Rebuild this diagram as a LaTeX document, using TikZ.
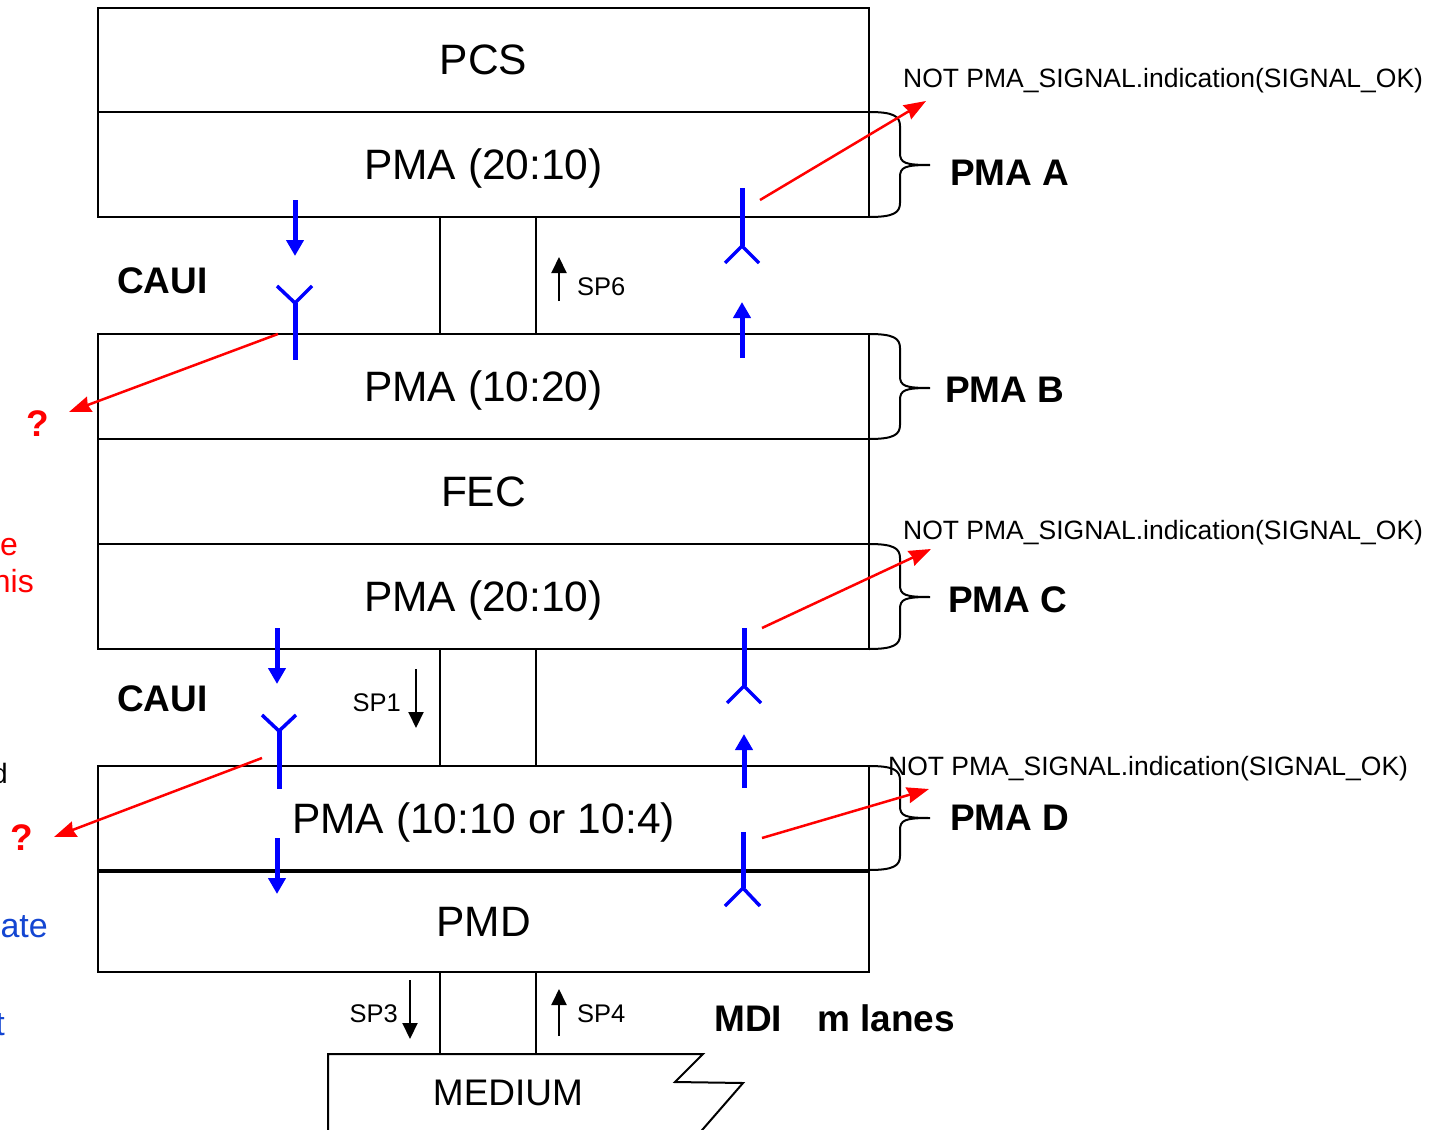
\documentclass[tikz,border=0pt]{standalone}
\usepackage{fontspec}
\setmainfont{Liberation Sans}
\usetikzlibrary{arrows.meta}
\definecolor{sigred}{RGB}{255,0,0}
\definecolor{sigblue}{RGB}{0,0,255}
\definecolor{noteblue}{RGB}{20,70,210}
\newcommand\mybrace[3]{% top, bottom, middle
  \draw[line width=2pt] (869,#1) .. controls (893,#1) and (900,{#1+4}) .. (900,{#1+14})
    -- (900,{#3-12}) .. controls (900,{#3-2}) and (905,#3) .. (930,#3)
    .. controls (905,#3) and (900,{#3+2}) .. (900,{#3+12})
    -- (900,{#2-14}) .. controls (900,{#2-4}) and (893,#2) .. (869,#2);}
\begin{document}
\begin{tikzpicture}[x=1pt,y=-1pt,
  layer/.style={draw,line width=2pt,minimum width=771pt,inner sep=0pt,
    text height=30pt,text depth=0pt,
    font=\fontsize{42.5}{48}\selectfont},
  gap/.style={draw,line width=2pt,minimum width=96pt,inner sep=0pt},
  lbl/.style={inner sep=0pt,text height=26.5pt,text depth=0pt,font=\fontsize{37}{42}\selectfont\bfseries},
  sig/.style={inner sep=0pt,text height=19pt,text depth=0pt,font=\fontsize{26.5}{30}\selectfont},
  sp/.style={inner sep=0pt,text height=18.5pt,text depth=0pt,font=\fontsize{25.5}{30}\selectfont},
  sparrow/.style={line width=2pt,-{Triangle[length=16pt,width=15pt]}},
  bluearrow/.style={sigblue,line width=5pt,-{Triangle[length=16pt,width=17pt]}},
  bluestem/.style={sigblue,line width=5pt},
  bluearm/.style={sigblue,line width=3.5pt},
  redarrow/.style={sigred,line width=2.5pt,-{Stealth[length=22pt,width=16pt,inset=2pt]}},
  frag/.style={inner sep=0pt,anchor=east,font=\fontsize{32}{36}\selectfont}]
\useasboundingbox (0,0) rectangle (1442,1129);
\fill[white] (0,0) rectangle (1442,1129);
% layers
\node[layer,minimum height=104pt] (pcs) at (483.5,60) {PCS};
\node[layer,minimum height=105pt] (pmaA) at (483.5,164.5) {PMA (20:10)};
\node[gap,minimum height=117pt] (caui1) at (488,275.5) {};
\node[layer,minimum height=105pt] (pmaB) at (483.5,386.5) {PMA (10:20)};
\node[layer,minimum height=105pt] (fec) at (483.5,491.5) {FEC};
\node[layer,minimum height=105pt] (pmaC) at (483.5,596.5) {PMA (20:10)};
\node[gap,minimum height=117pt] (caui2) at (488,707.5) {};
\node[layer,minimum height=104pt] (pmaD) at (483.5,818) {PMA (10:10 or 10:4)};
\node[layer,minimum height=102pt] (pmd) at (483.5,921) {PMD};
\node[gap,minimum height=82pt] (mdi) at (488,1013) {};
\draw[line width=3pt] (pmaD.south west) -- (pmaD.south east);
% medium
\draw[line width=2pt] (328,1140) -- (328,1054) -- (703,1054) -- (675,1082) -- (743,1083) -- (703,1129) -- (696,1137);
\node[inner sep=0pt,text height=26.5pt,text depth=0pt,font=\fontsize{37}{42}\selectfont] (medium) at (508,1092) {MEDIUM};
% braces
\mybrace{112}{217}{165}
\mybrace{334}{439}{388}
\mybrace{544}{649}{597}
\mybrace{766}{870}{818}
% right labels
\node[lbl,anchor=west] (lA) at (950,172) {PMA A};
\node[lbl,anchor=west] (lB) at (945,389) {PMA B};
\node[lbl,anchor=west] (lC) at (948,599) {PMA C};
\node[lbl,anchor=west] (lD) at (950,817) {PMA D};
\node[sig,anchor=west] (nA) at (903,78) {NOT PMA\_SIGNAL.indication(SIGNAL\_OK)};
\node[sig,anchor=west] (nC) at (903,530) {NOT PMA\_SIGNAL.indication(SIGNAL\_OK)};
\node[sig,anchor=west] (nD) at (888,766) {NOT PMA\_SIGNAL.indication(SIGNAL\_OK)};
% CAUI, MDI
\node[lbl,anchor=west] (c1) at (117,280) {CAUI};
\node[lbl,anchor=west] (c2) at (117,698) {CAUI};
\node[lbl,anchor=west] (mdil) at (714,1018) {MDI};
\node[lbl,anchor=west] (ml) at (817,1018) {m lanes};
% SP labels and arrows
\node[sp,anchor=west] (sp6) at (577,286) {SP6};
\node[sp,anchor=east] (sp1) at (401,702) {SP1};
\node[sp,anchor=east] (sp3) at (398,1013) {SP3};
\node[sp,anchor=west] (sp4) at (577,1013) {SP4};
\coordinate (sp6a) at (559,301); \coordinate (sp6b) at (559,257);
\coordinate (sp1a) at (416,669); \coordinate (sp1b) at (416,728);
\coordinate (sp3a) at (410,980); \coordinate (sp3b) at (410,1039);
\coordinate (sp4a) at (559,1036); \coordinate (sp4b) at (559,989);
\draw[sparrow] (sp6a) -- (sp6b);
\draw[sparrow] (sp1a) -- (sp1b);
\draw[sparrow] (sp3a) -- (sp3b);
\draw[sparrow] (sp4a) -- (sp4b);
% blue arrows
\coordinate (b1a) at (295,200); \coordinate (b1b) at (295,256);
\coordinate (b2a) at (742,358); \coordinate (b2b) at (742,302);
\coordinate (b3a) at (277,628); \coordinate (b3b) at (277,684);
\coordinate (b4a) at (744,788); \coordinate (b4b) at (744,734);
\coordinate (b5a) at (277,838); \coordinate (b5b) at (277,894);
\draw[bluearrow] (b1a) -- (b1b);
\draw[bluearrow] (b2a) -- (b2b);
\draw[bluearrow] (b3a) -- (b3b);
\draw[bluearrow] (b4a) -- (b4b);
\draw[bluearrow] (b5a) -- (b5b);
% Y connectors (receive side, opening up)
\coordinate (y1) at (295,303);
\draw[bluestem] (y1) -- (295,360);
\draw[bluearm] (277,286) -- (y1) -- (312,286);
\coordinate (y2) at (279,731);
\draw[bluestem] (y2) -- (279,789);
\draw[bluearm] (262,715) -- (y2) -- (296,715);
% inverted Y connectors
\coordinate (iy1) at (742,246);
\draw[bluestem] (742,188) -- (iy1);
\draw[bluearm] (725,263) -- (iy1) -- (759,263);
\coordinate (iy2) at (744,686);
\draw[bluestem] (744,628) -- (iy2);
\draw[bluearm] (727,703) -- (iy2) -- (761,703);
\coordinate (iy3) at (743,888);
\draw[bluestem] (743,832) -- (iy3);
\draw[bluearm] (725,906) -- (iy3) -- (760,906);
% red arrows
\coordinate (rA1) at (760,200); \coordinate (rA2) at (926,101);
\coordinate (rC1) at (762,628); \coordinate (rC2) at (931,549);
\coordinate (rD1) at (762,838); \coordinate (rD2) at (929,789);
\coordinate (rL1) at (278,334); \coordinate (rL2) at (69,412);
\coordinate (rL3) at (262,758); \coordinate (rL4) at (54,837);
\draw[redarrow] (rA1) -- (rA2);
\draw[redarrow] (rC1) -- (rC2);
\draw[redarrow] (rD1) -- (rD2);
\draw[redarrow] (rL1) -- (rL2);
\draw[redarrow] (rL3) -- (rL4);
\node[inner sep=0pt,text=sigred,font=\fontsize{37}{42}\selectfont\bfseries] (q1) at (38,424) {?};
\node[inner sep=0pt,text=sigred,font=\fontsize{37}{42}\selectfont\bfseries] (q2) at (22,838) {?};
% clipped fragments at left edge
\node[frag,text=sigred] (f1) at (18,547) {e};
\node[frag,text=sigred] (f2) at (34,581) {his};
\node[frag,font=\fontsize{28}{32}\selectfont] (f3) at (8,773) {d};
\node[frag,text=noteblue,font=\fontsize{34}{38}\selectfont] (f4) at (48,927) {ate};
\node[frag,text=noteblue,font=\fontsize{34}{38}\selectfont] (f5) at (5,1025) {t};
\end{tikzpicture}
\end{document}
